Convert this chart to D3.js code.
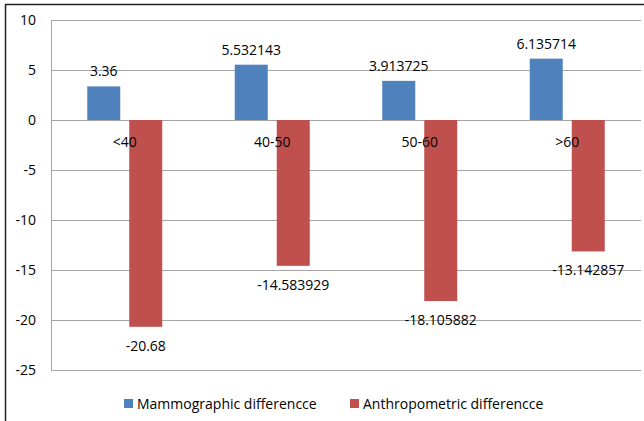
<!DOCTYPE html>
<html>
<head>
<meta charset="utf-8">
<script src="https://cdn.jsdelivr.net/npm/d3@7"></script>
<style>
  html, body { margin: 0; padding: 0; background: #fff; }
  svg { display: block; }
  text { font-family: "Open Sans", "Noto Sans", sans-serif; fill: #000; }
</style>
</head>
<body>
<svg id="chart" width="644" height="421"></svg>
<script>
const categories = ["<40", "40-50", "50-60", ">60"];
const mammographic = [3.36, 5.532143, 3.913725, 6.135714];
const anthropometric = [-20.68, -14.583929, -18.105882, -13.142857];
const mammoLabels = ["3.36", "5.532143", "3.913725", "6.135714"];
const anthroLabels = ["-20.68", "-14.583929", "-18.105882", "-13.142857"];
const seriesNames = ["Mammographic differencce", "Anthropometric differencce"];
const yTicks = [10, 5, 0, -5, -10, -15, -20, -25];

(function () {
const colors = ["#4F81BD", "#C0504D"];
const svg = d3.select("#chart");
const pLeft = 51, pRight = 641, pTop = 20, pBottom = 370;

// frame
svg.append("line").attr("x1", 5.5).attr("x2", 5.5).attr("y1", 4).attr("y2", 421).attr("stroke", "#222").attr("stroke-width", 1.5);
svg.append("line").attr("x1", 5).attr("x2", 644).attr("y1", 4.5).attr("y2", 4.5).attr("stroke", "#222").attr("stroke-width", 1.5);

const y = d3.scaleLinear().domain([-25, 10]).range([pBottom, pTop]);
const x0 = d3.scaleBand().domain(categories).range([pLeft, pRight]).paddingInner(0).paddingOuter(0);

// gridlines
svg.append("g").selectAll("line").data(yTicks).join("line")
  .attr("x1", pLeft).attr("x2", pRight)
  .attr("y1", d => Math.round(y(d)) + 0.5).attr("y2", d => Math.round(y(d)) + 0.5)
  .attr("stroke", "#a6a6a6").attr("stroke-width", 1);

// y axis
const yAxis = d3.axisLeft(y).tickValues(yTicks).tickSize(0).tickPadding(15).tickFormat(d => String(d));
const gy = svg.append("g").attr("transform", `translate(${pLeft},0)`).call(yAxis);
gy.select(".domain").attr("stroke", "#a6a6a6");
gy.selectAll("text").attr("font-size", 14).style("font-family", '"Open Sans", sans-serif');

const barW = 33, gap = 9;
const data = categories.map((c, i) => ({c, v: [mammographic[i], anthropometric[i]], l: [mammoLabels[i], anthroLabels[i]]}));

const g = svg.append("g");
data.forEach(d => {
  const cx = x0(d.c) + x0.bandwidth() / 2;
  d.v.forEach((v, s) => {
    const bx = s === 0 ? cx - gap / 2 - barW : cx + gap / 2;
    g.append("rect")
      .attr("x", bx).attr("width", barW)
      .attr("y", Math.min(y(v), y(0))).attr("height", Math.abs(y(v) - y(0)))
      .attr("fill", colors[s]);
    g.append("text")
      .attr("x", bx + barW / 2)
      .attr("y", v >= 0 ? y(v) - 10 : y(v) + 24)
      .attr("text-anchor", "middle").attr("font-size", 14)
      .text(d.l[s]);
  });
});

// category labels
svg.append("g").selectAll("text").data(categories).join("text")
  .attr("x", d => x0(d) + x0.bandwidth() / 2)
  .attr("y", y(0) + 27)
  .attr("text-anchor", "middle").attr("font-size", 14)
  .text(d => d);

// legend
const legendX = [124, 350];
const lg = svg.append("g");
seriesNames.forEach((n, i) => {
  lg.append("rect").attr("x", legendX[i]).attr("y", 399).attr("width", 9).attr("height", 9).attr("fill", colors[i]);
  lg.append("text").attr("x", legendX[i] + 13).attr("y", 408.5).attr("font-size", 14).text(n);
});
})();
</script>
</body>
</html>
